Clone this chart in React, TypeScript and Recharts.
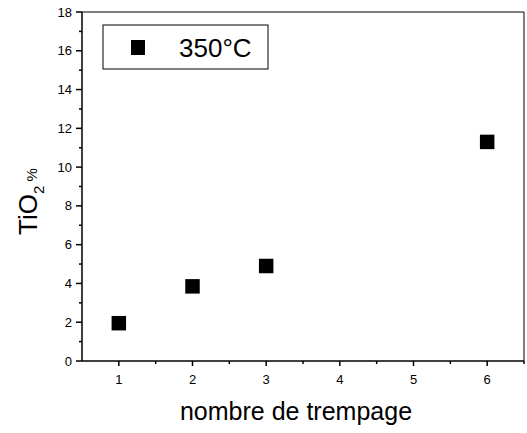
import { ScatterChart, Scatter, XAxis, YAxis, ReferenceLine, ZAxis, Label, Customized } from 'recharts';

const trempages = [1, 2, 3, 6];
const tio2 = [1.95, 3.85, 4.9, 11.3];
const xTicks = [0.5, 1, 1.5, 2, 2.5, 3, 3.5, 4, 4.5, 5, 5.5, 6, 6.5];
const yTicks = [0, 1, 2, 3, 4, 5, 6, 7, 8, 9, 10, 11, 12, 13, 14, 15, 16, 17, 18];
const seriesName = '350°C';
const xTitle = 'nombre de trempage';

const data = trempages.map((t, i) => ({ x: t, y: tio2[i] }));

const FONT = '"Liberation Sans", Arial, sans-serif';

function XTick({ x, y, payload }: any) {
  const v = payload.value;
  const major = Number.isInteger(v);
  if (v === 0.5) return null;
  return (
    <g>
      <line x1={x} x2={x} y1={y} y2={y + (major ? 5 : 3)} stroke="#000" strokeWidth={1.5} />
      {major && v !== 6.5 && (
        <text x={x} y={y + 23} textAnchor="middle" fontSize={13} fontFamily={FONT} fill="#000">
          {v}
        </text>
      )}
    </g>
  );
}

function YTick({ x, y, payload }: any) {
  const v = payload.value;
  const major = v % 2 === 0;
  return (
    <g>
      <line x1={x} x2={x - (major ? 6 : 3)} y1={y} y2={y} stroke="#000" strokeWidth={1.5} />
      {major && (
        <text x={x - 10} y={y + 4.5} textAnchor="end" fontSize={13} fontFamily={FONT} fill="#000">
          {v}
        </text>
      )}
    </g>
  );
}

function XTitle() {
  return (
    <text x={296} y={420} textAnchor="middle" fontSize={25} fontFamily={FONT} fill="#000">
      {xTitle}
    </text>
  );
}

function YTitle() {
  const bx = 37;
  const by = 235;
  return (
    <text x={bx} y={by} transform={`rotate(-90 ${bx} ${by})`} fontSize={26} fontFamily={FONT} fill="#000">
      TiO<tspan fontSize={15} dy={7}>2</tspan>
      <tspan fontSize={15} dy={-7}> %</tspan>
    </text>
  );
}

function LegendBox() {
  return (
    <g>
      <rect x={103} y={25} width={165} height={44} fill="#fff" stroke="#000" strokeWidth={1} />
      <rect x={131} y={40} width={14} height={15} fill="#000" />
      <text x={179} y={57} fontSize={26} fontFamily={FONT} fill="#000">
        {seriesName}
      </text>
    </g>
  );
}

export default function App() {
  return (
    <div style={{ width: 527, height: 433, background: '#fff' }}>
      <style>{'body{margin:0}'}</style>
      <ScatterChart width={527} height={433} margin={{ top: 12, right: 3, left: 32, bottom: 42 }}>
        <XAxis
          type="number"
          dataKey="x"
          domain={[0.5, 6.5]}
          ticks={xTicks}
          interval={0}
          height={30}
          tickSize={0}
          tickMargin={0}
          tickLine={false}
          tick={<XTick />}
          stroke="#000"
          strokeWidth={1.5}
        >
          <Label content={<XTitle />} />
        </XAxis>
        <YAxis
          type="number"
          dataKey="y"
          domain={[0, 18]}
          ticks={yTicks}
          interval={0}
          width={50}
          tickSize={0}
          tickMargin={0}
          tickLine={false}
          tick={<YTick />}
          stroke="#000"
          strokeWidth={1.5}
        >
          <Label content={<YTitle />} />
        </YAxis>
        <ZAxis range={[210, 210]} />
        <ReferenceLine y={18} stroke="#000" strokeWidth={1} ifOverflow="extendDomain" />
        <ReferenceLine x={6.5} stroke="#000" strokeWidth={1} ifOverflow="extendDomain" />
        <Scatter name={seriesName} data={data} fill="#000" shape="square" isAnimationActive={false} />
        <Customized component={<LegendBox />} />
      </ScatterChart>
    </div>
  );
}
